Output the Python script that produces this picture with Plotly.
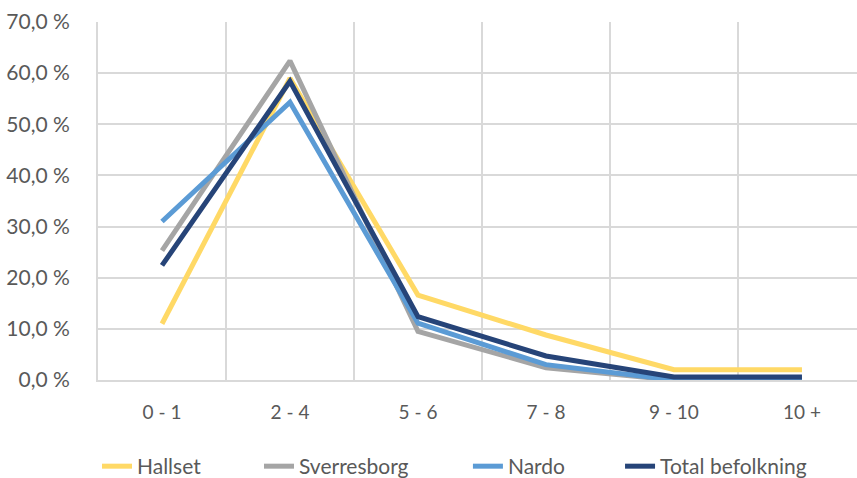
import plotly.graph_objects as go

# Age groups (years) on the x axis
categories = ["0 - 1", "2 - 4", "5 - 6", "7 - 8", "9 - 10", "10 +"]

# Share of each area's population per age group, in percent
hallset = [11.0, 59.0, 16.6, 8.8, 2.0, 2.0]
sverresborg = [25.3, 62.4, 9.5, 2.4, 0.0, 0.0]
nardo = [31.0, 54.3, 11.1, 3.0, 0.0, 0.0]
total_befolkning = [22.4, 58.4, 12.4, 4.7, 0.6, 0.6]

series_names = ["Hallset", "Sverresborg", "Nardo", "Total befolkning"]
series_values = [hallset, sverresborg, nardo, total_befolkning]
series_colors = ["#FFD966", "#A5A5A5", "#5B9BD5", "#264478"]
# left edge of each legend entry, as a fraction of the figure width
legend_x = [0.1132, 0.3022, 0.546, 0.7235]

font_family = "Lato, 'Liberation Sans', sans-serif"
text_color = "#595959"
grid_color = "#D9D9D9"

fig = go.Figure()
layout_legends = {}
for i, (name, values, color) in enumerate(zip(series_names, series_values, series_colors)):
    legend_id = "legend" if i == 0 else f"legend{i + 1}"
    fig.add_trace(go.Scatter(
        x=categories, y=values, name=name, mode="lines",
        line=dict(color=color, width=5),
        legend=legend_id,
    ))
    layout_legends[legend_id] = dict(
        orientation="h", xref="container", yref="container",
        x=legend_x[i], xanchor="left",
        y=0.024, yanchor="middle",
        font=dict(size=21, color=text_color, family=font_family),
        bgcolor="rgba(0,0,0,0)", borderwidth=0,
    )

fig.update_layout(
    width=857, height=478,
    margin=dict(l=98, r=0, t=22, b=98, autoexpand=False),
    paper_bgcolor="white", plot_bgcolor="white",
    separators=", ",
    font=dict(family=font_family, size=18, color=text_color),
    showlegend=True,
    **layout_legends,
)

fig.update_xaxes(
    type="category", range=[-0.5, 5.43],
    tickson="boundaries", showgrid=True, gridcolor=grid_color, gridwidth=2,
    showline=True, linecolor=grid_color, linewidth=2,
    ticks="", ticklabelstandoff=14,
    tickfont=dict(size=19, color=text_color),
    zeroline=False, fixedrange=True,
)
fig.update_yaxes(
    range=[0, 70], dtick=10, tickformat=".1f", ticksuffix=" %",
    showgrid=True, gridcolor=grid_color, gridwidth=2,
    zeroline=False, ticks="", ticklabelstandoff=22,
    tickfont=dict(size=21, color=text_color),
    showline=True, linecolor=grid_color, linewidth=2,
    fixedrange=True,
)

fig.write_html("out.html")
